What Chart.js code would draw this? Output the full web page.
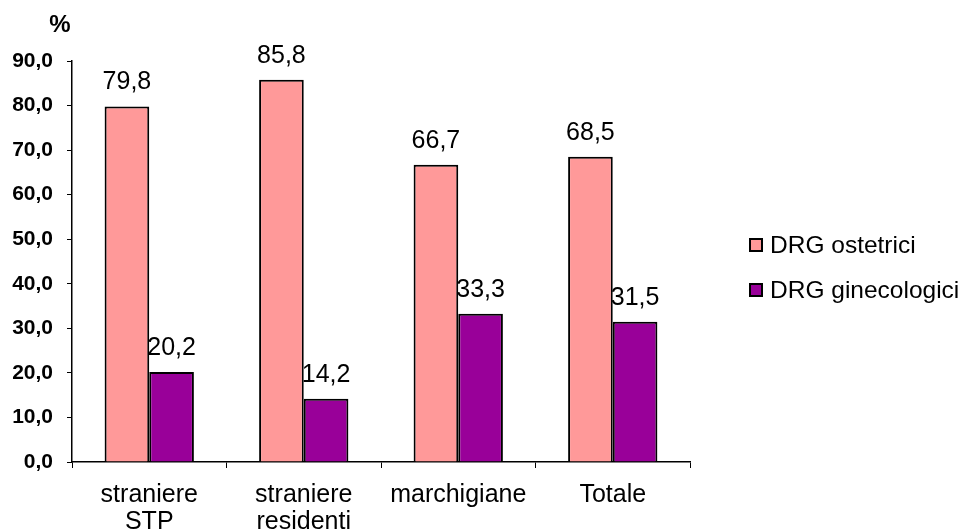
<!DOCTYPE html>
<html>
<head>
<meta charset="utf-8">
<script src="https://cdn.jsdelivr.net/npm/chart.js"></script>
<style>
    html, body { margin: 0; padding: 0; background: #ffffff; }
    #wrap { width: 969px; height: 531px; }
</style>
</head>
<body>
<div id="wrap"><canvas id="drgChart"></canvas></div>
<script>
const categories = [['straniere', 'STP'], ['straniere', 'residenti'], 'marchigiane', 'Totale'];
const ostetrici = [79.8, 85.8, 66.7, 68.5];
const ginecologici = [20.2, 14.2, 33.3, 31.5];
const seriesNames = ['DRG ostetrici', 'DRG ginecologici'];
const seriesColors = ['#FF9999', '#990099'];
const yMin = 0, yMax = 90, yStep = 10;

const fmt = v => v.toFixed(1).replace('.', ',');
const FONT = 'Arial, "Liberation Sans", sans-serif';

// value labels above each bar
const valueLabels = {
    id: 'valueLabels',
    afterDatasetsDraw(chart) {
        const ctx = chart.ctx;
        ctx.save();
        ctx.fillStyle = '#000000';
        ctx.font = '25px ' + FONT;
        ctx.textAlign = 'center';
        ctx.textBaseline = 'alphabetic';
        chart.data.datasets.forEach((ds, i) => {
            chart.getDatasetMeta(i).data.forEach((bar, j) => {
                ctx.fillText(fmt(ds.data[j]), bar.x, bar.y - 17);
            });
        });
        ctx.restore();
    }
};

// "%" unit and the legend on the right
const extras = {
    id: 'extras',
    afterDraw(chart) {
        const ctx = chart.ctx;
        ctx.save();
        ctx.fillStyle = '#000000';
        ctx.font = 'bold 24px ' + FONT;
        ctx.textAlign = 'center';
        ctx.textBaseline = 'middle';
        ctx.fillText('%', 60, 25);

        ctx.font = '24.5px ' + FONT;
        ctx.textAlign = 'left';
        chart.data.datasets.forEach((ds, i) => {
            const cy = 245 + i * 45;
            ctx.fillStyle = ds.backgroundColor;
            ctx.fillRect(750, cy - 6, 13, 13);
            ctx.strokeStyle = '#000000';
            ctx.lineWidth = 2;
            ctx.strokeRect(750, cy - 6, 12, 12);
            ctx.fillStyle = '#000000';
            ctx.fillText(ds.label, 770, cy + 1);
        });
        ctx.restore();
    }
};

new Chart(document.getElementById('drgChart').getContext('2d'), {
    type: 'bar',
    data: {
        labels: categories,
        datasets: [
            {
                label: seriesNames[0],
                data: ostetrici,
                backgroundColor: seriesColors[0],
                borderColor: '#000000',
                borderWidth: 2,
                categoryPercentage: 0.578,
                barPercentage: 1
            },
            {
                label: seriesNames[1],
                data: ginecologici,
                backgroundColor: seriesColors[1],
                borderColor: '#000000',
                borderWidth: 2,
                categoryPercentage: 0.578,
                barPercentage: 1
            }
        ]
    },
    options: {
        responsive: true,
        maintainAspectRatio: false,
        animation: false,
        layout: { padding: { top: 61, right: 279, left: 0, bottom: 0 } },
        plugins: {
            legend: { display: false },
            title: { display: false },
            tooltip: { enabled: false }
        },
        scales: {
            x: {
                afterFit: s => { s.height = 69; },
                border: { display: true, color: '#000000', width: 1.5 },
                grid: { drawOnChartArea: false, drawTicks: true, tickLength: 6, color: '#000000', offset: true },
                ticks: {
                    color: '#000000',
                    font: { family: FONT, size: 25, lineHeight: 1.1 },
                    padding: 13,
                    maxRotation: 0,
                    autoSkip: false
                }
            },
            y: {
                min: yMin,
                max: yMax,
                afterFit: s => { s.width = 72; },
                border: { display: true, color: '#000000', width: 1.5 },
                grid: { drawOnChartArea: false, drawTicks: true, tickLength: 5, color: '#000000' },
                ticks: {
                    stepSize: yStep,
                    color: '#000000',
                    font: { family: FONT, size: 21, weight: 'bold' },
                    padding: 14,
                    callback: v => fmt(v)
                }
            }
        }
    },
    plugins: [valueLabels, extras]
});
</script>
</body>
</html>
